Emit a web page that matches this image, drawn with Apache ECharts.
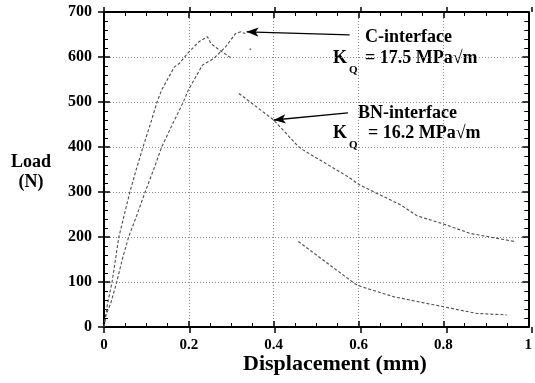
<!DOCTYPE html>
<html>
<head>
<meta charset="utf-8">
<script src="https://cdn.jsdelivr.net/npm/echarts@6/dist/echarts.min.js"></script>
<style>
html,body{margin:0;padding:0;background:#fff;}
#c{width:535px;height:383px;}
</style>
</head>
<body>
<div id="c"></div>
<script>
// BN-interface: loading branch and post-peak
var bnX = [0, 0.008, 0.019, 0.027, 0.035, 0.048, 0.061, 0.076, 0.092, 0.109, 0.125, 0.136, 0.166, 0.178, 0.197, 0.224, 0.244, 0.252, 0.271, 0.298];
var bnY = [0, 50, 100, 150, 200, 250, 300, 350, 400, 450, 500, 527, 578, 586, 608, 634, 645, 630, 616, 599];
// BN-interface: unloading tail
var bnTailX = [0.318, 0.40, 0.458, 0.47, 0.575, 0.602, 0.70, 0.738, 0.80, 0.863, 0.968];
var bnTailY = [519, 460, 401, 393, 334, 316, 271, 247, 229, 208, 190];
// C-interface: loading branch
var cX = [0, 0.004, 0.016, 0.030, 0.043, 0.058, 0.078, 0.097, 0.117, 0.136, 0.161, 0.187, 0.199, 0.232, 0.259, 0.287, 0.31, 0.322, 0.333];
var cY = [0, 25, 53, 100, 150, 200, 250, 300, 350, 400, 450, 500, 527, 582, 597, 623, 652, 656, 652];
var cSpeckX = [0.345];
var cSpeckY = [617];
// C-interface: unloading tail
var cTailX = [0.458, 0.512, 0.59, 0.605, 0.684, 0.80, 0.879, 0.949];
var cTailY = [190, 152, 97, 90, 67, 45, 30, 27];

var xTicks = [0, 0.2, 0.4, 0.6, 0.8, 1];
var yTicks = [0, 100, 200, 300, 400, 500, 600, 700];

var xLabel = 'Displacement (mm)';
var yLabel1 = 'Load';
var yLabel2 = '(N)';
var cName = 'C-interface';
var cK = '= 17.5 MPa\u221Am';
var bnName = 'BN-interface';
var bnK = '= 16.2 MPa\u221Am';

function pairs(xs, ys) { return xs.map(function (x, i) { return [x, ys[i]]; }); }

var font = 'Liberation Serif, Times New Roman, serif';
var lineStyleData = { color: '#4d4d4d', width: 1.1, type: [3, 2] };
var XMIN = xTicks[0], XMAX = xTicks[xTicks.length - 1];
var YMIN = yTicks[0], YMAX = yTicks[yTicks.length - 1];
function tickLS() { return { color: '#000', width: 1.5 }; }
function minorLS() { return { color: '#000', width: 1 }; }
function gridLS() { return { color: '#8a8a8a', type: [1, 2], width: 1 }; }
function axLine() { return { show: true, onZero: false, lineStyle: { color: '#000', width: 2 } }; }
function noLine() { return { show: false, onZero: false }; }

var chart = echarts.init(document.getElementById('c'));
var K = { fontFamily: font, fontWeight: 'bold', fontSize: 18, fill: '#000' };
var Q = { fontFamily: font, fontWeight: 'bold', fontSize: 11, fill: '#000' };
var gridRect = { left: 104, right: 3, top: 12, bottom: 56 };

chart.setOption({
  animation: false,
  backgroundColor: '#fff',
  grid: [Object.assign({}, gridRect), Object.assign({}, gridRect)],
  xAxis: [
    { gridIndex: 0, type: 'value', min: XMIN, max: XMAX, interval: 0.2, position: 'bottom',
      axisLine: axLine(),
      axisTick: { show: true, inside: true, length: 6, lineStyle: tickLS() },
      minorTick: { show: true, splitNumber: 4, length: 4, lineStyle: minorLS() },
      axisLabel: { show: true, margin: 11, color: '#000', fontFamily: font, fontWeight: 'bold', fontSize: 15 },
      splitLine: { show: true, lineStyle: gridLS() } },
    { gridIndex: 0, type: 'value', min: XMIN, max: XMAX, interval: 0.2, position: 'top',
      axisLine: axLine(), axisLabel: { show: false }, splitLine: { show: false },
      axisTick: { show: true, inside: true, length: 6, lineStyle: tickLS() },
      minorTick: { show: true, splitNumber: 4, length: 4, lineStyle: minorLS() } },
    { gridIndex: 1, type: 'value', min: XMIN, max: XMAX, interval: 0.2, position: 'bottom',
      axisLine: noLine(), axisLabel: { show: false }, splitLine: { show: false },
      axisTick: { show: true, inside: false, length: 6, lineStyle: tickLS() } },
    { gridIndex: 1, type: 'value', min: XMIN, max: XMAX, interval: 0.2, position: 'top',
      axisLine: noLine(), axisLabel: { show: false }, splitLine: { show: false },
      axisTick: { show: true, inside: false, length: 5, lineStyle: tickLS() } }
  ],
  yAxis: [
    { gridIndex: 0, type: 'value', min: YMIN, max: YMAX, interval: 100, position: 'left',
      axisLine: axLine(),
      axisTick: { show: true, inside: true, length: 6, lineStyle: tickLS() },
      minorTick: { show: true, splitNumber: 5, length: 4, lineStyle: minorLS() },
      axisLabel: { show: true, margin: 12, color: '#000', fontFamily: font, fontWeight: 'bold', fontSize: 16 },
      splitLine: { show: true, lineStyle: gridLS() } },
    { gridIndex: 0, type: 'value', min: YMIN, max: YMAX, interval: 100, position: 'right',
      axisLine: axLine(), axisLabel: { show: false }, splitLine: { show: false },
      axisTick: { show: true, inside: true, length: 6, lineStyle: tickLS() },
      minorTick: { show: true, splitNumber: 5, length: 4, lineStyle: minorLS() } },
    { gridIndex: 1, type: 'value', min: YMIN, max: YMAX, interval: 100, position: 'left',
      axisLine: noLine(), axisLabel: { show: false }, splitLine: { show: false },
      axisTick: { show: true, inside: false, length: 6, lineStyle: tickLS() } }
  ],
  series: [
    {
      type: 'line', name: 'BN-interface', xAxisIndex: 0, yAxisIndex: 0, data: pairs(bnX, bnY), showSymbol: false, symbol: 'none',
      lineStyle: lineStyleData, z: 3,
      markLine: {
        silent: true, symbol: ['none', 'arrow'], symbolSize: [7, 12],
        lineStyle: { color: '#000', width: 1.3, type: 'solid' },
        label: { show: false },
        data: [
          [{ coord: [0.579, 649] }, { coord: [0.336, 656] }],
          [{ coord: [0.575, 476] }, { coord: [0.400, 460] }]
        ]
      }
    },
    { type: 'line', name: 'BN-interface tail', xAxisIndex: 0, yAxisIndex: 0, data: pairs(bnTailX, bnTailY), showSymbol: false, symbol: 'none', lineStyle: lineStyleData, z: 3 },
    { type: 'line', name: 'C-interface', xAxisIndex: 0, yAxisIndex: 0, data: pairs(cX, cY), showSymbol: false, symbol: 'none', lineStyle: lineStyleData, z: 3 },
    { type: 'scatter', name: 'C-interface speck', xAxisIndex: 0, yAxisIndex: 0, data: pairs(cSpeckX, cSpeckY), symbolSize: 2, itemStyle: { color: '#555' } },
    { type: 'line', name: 'C-interface tail', xAxisIndex: 0, yAxisIndex: 0, data: pairs(cTailX, cTailY), showSymbol: false, symbol: 'none', lineStyle: lineStyleData, z: 3 }
  ],
  graphic: [
    { type: 'text', left: 243, top: 353, style: { text: xLabel, fontFamily: font, fontWeight: 'bold', fontSize: 22, fill: '#000' } },
    { type: 'text', x: 31, y: 162, style: { text: yLabel1, fontFamily: font, fontWeight: 'bold', fontSize: 18, fill: '#000', textAlign: 'center', textVerticalAlign: 'middle' } },
    { type: 'text', x: 31, y: 182, style: { text: yLabel2, fontFamily: font, fontWeight: 'bold', fontSize: 18, fill: '#000', textAlign: 'center', textVerticalAlign: 'middle' } },
    { type: 'text', x: 365, y: 37, style: Object.assign({ text: cName, textVerticalAlign: 'middle' }, K) },
    { type: 'text', x: 333, y: 58, style: Object.assign({ text: 'K', textVerticalAlign: 'middle' }, K) },
    { type: 'text', x: 349, y: 70, style: Object.assign({ text: 'Q', textVerticalAlign: 'middle' }, Q) },
    { type: 'text', x: 365, y: 58, style: Object.assign({ text: cK, textVerticalAlign: 'middle' }, K) },
    { type: 'text', x: 358, y: 113, style: Object.assign({ text: bnName, textVerticalAlign: 'middle' }, K) },
    { type: 'text', x: 333, y: 133, style: Object.assign({ text: 'K', textVerticalAlign: 'middle' }, K) },
    { type: 'text', x: 349, y: 145, style: Object.assign({ text: 'Q', textVerticalAlign: 'middle' }, Q) },
    { type: 'text', x: 368, y: 133, style: Object.assign({ text: bnK, textVerticalAlign: 'middle' }, K) }
  ]
});
</script>
</body>
</html>
